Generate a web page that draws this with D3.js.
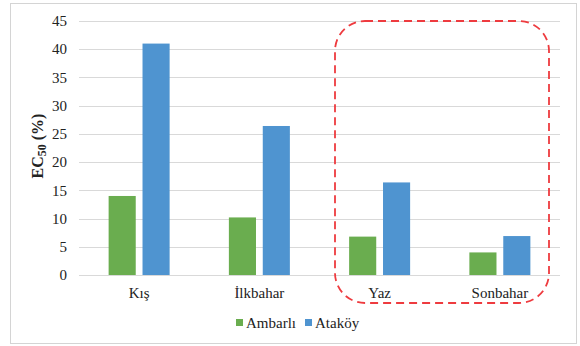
<!DOCTYPE html>
<html>
<head>
<meta charset="utf-8">
<script src="https://cdn.jsdelivr.net/npm/d3@7"></script>
<style>
  body { margin: 0; background: #fff; }
</style>
</head>
<body>
<div id="chart"></div>
<script>
const seasons = ["Kış", "İlkbahar", "Yaz", "Sonbahar"];
const seriesNames = ["Ambarlı", "Ataköy"];
const ambarli = [14, 10.2, 6.8, 4];
const atakoy = [41, 26.4, 16.4, 6.9];
const yTicks = [0, 5, 10, 15, 20, 25, 30, 35, 40, 45];
const colors = ["#6aad4f", "#4f94d0"];

const W = 580, H = 346;
const margin = {top: 21, right: 20, bottom: 71, left: 79};
const width = 560 - margin.left;
const height = 275 - margin.top;
const serif = "'Liberation Serif', 'DejaVu Serif', 'Times New Roman', serif";

const svg = d3.select("#chart").append("svg")
    .attr("width", W).attr("height", H)
    .attr("font-family", serif)
    .style("font-family", serif)
    .attr("fill", "#222");

// outer frame
svg.append("rect")
    .attr("x", 10.5).attr("y", 3.5)
    .attr("width", 566).attr("height", 340)
    .attr("fill", "none").attr("stroke", "#d4d4d4");

const g = svg.append("g").attr("transform", `translate(${margin.left},${margin.top})`);

const x0 = d3.scaleBand().domain(seasons).range([0, width]);
const x1 = d3.scaleBand().domain(seriesNames)
    .range([x0.bandwidth() / 2 - 30.5, x0.bandwidth() / 2 + 30.5]).paddingInner(0.2);
const y = d3.scaleLinear().domain([0, 45]).range([height, 0]);

// gridlines
g.selectAll(".grid").data(yTicks).join("line")
    .attr("x1", 0).attr("x2", width)
    .attr("y1", d => Math.round(y(d)) + 0.5).attr("y2", d => Math.round(y(d)) + 0.5)
    .attr("stroke", "#d9d9d9").attr("stroke-width", 1);

// y tick labels
g.selectAll(".ytick").data(yTicks).join("text")
    .attr("x", -12).attr("y", d => y(d))
    .attr("dy", "0.35em").attr("text-anchor", "end")
    .style("font-size", "15px")
    .text(d => d);

// bars
const values = [ambarli, atakoy];
const groups = g.selectAll(".season").data(seasons).join("g")
    .attr("transform", d => `translate(${x0(d)},0)`);

groups.selectAll("rect")
    .data((d, i) => seriesNames.map((s, j) => ({s, v: values[j][i], j})))
    .join("rect")
    .attr("x", d => x1(d.s))
    .attr("y", d => y(d.v))
    .attr("width", x1.bandwidth())
    .attr("height", d => y(0) - y(d.v))
    .attr("fill", d => colors[d.j]);

// category labels
g.selectAll(".xlab").data(seasons).join("text")
    .attr("x", d => x0(d) + x0.bandwidth() / 2)
    .attr("y", height + 23)
    .attr("text-anchor", "middle")
    .style("font-size", "15px")
    .text(d => d);

// y axis title
const yt = svg.append("text")
    .attr("transform", "translate(43,146) rotate(-90)")
    .attr("text-anchor", "middle")
    .style("font-size", "16px").style("font-weight", "bold");
yt.append("tspan").text("EC");
yt.append("tspan").attr("dy", 3).style("font-size", "12px").text("50");
yt.append("tspan").attr("dy", -3).text(" (%)");

// legend
const legend = svg.append("g").attr("transform", "translate(236,323)");
const items = legend.selectAll("g").data(seriesNames).join("g")
    .attr("transform", (d, i) => `translate(${i * 69},0)`);
items.append("rect")
    .attr("x", 0).attr("y", -4).attr("width", 7).attr("height", 7)
    .attr("fill", (d, i) => colors[i]);
items.append("text")
    .attr("x", 10).attr("y", 0).attr("dy", "0.35em")
    .style("font-size", "15px")
    .text(d => d);

// dashed highlight around Yaz and Sonbahar
svg.append("rect")
    .attr("x", 335).attr("y", 21)
    .attr("width", 214).attr("height", 282)
    .attr("rx", 30).attr("ry", 30)
    .attr("fill", "none")
    .attr("stroke", "#ee3b3f").attr("stroke-width", 1.8)
    .attr("stroke-dasharray", "8,5");
</script>
</body>
</html>
